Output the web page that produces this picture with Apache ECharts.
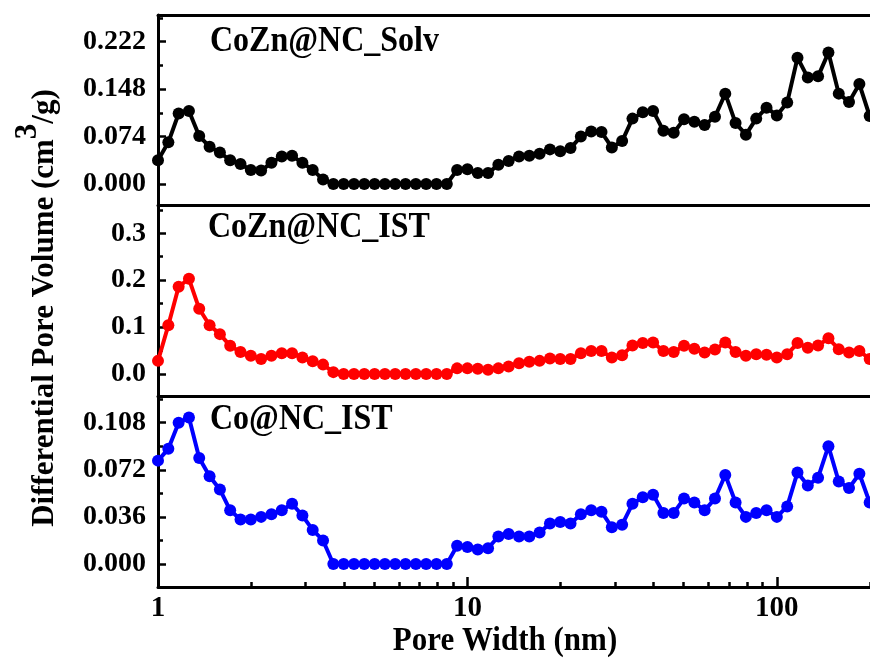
<!DOCTYPE html>
<html>
<head>
<meta charset="utf-8">
<script src="https://cdn.jsdelivr.net/npm/echarts@6/dist/echarts.min.js"></script>
<style>
html,body{margin:0;padding:0;background:#fff;}
#chart{width:870px;height:663px;}
</style>
</head>
<body>
<div id="chart"></div>
<script>
// Pore width (nm), log-spaced sampling
const poreWidth = [1.000,1.080,1.166,1.259,1.359,1.468,1.585,1.711,1.848,1.995,
  2.154,2.326,2.512,2.712,2.929,3.162,3.415,3.687,3.981,4.299,
  4.642,5.012,5.412,5.843,6.310,6.813,7.356,7.943,8.577,9.261,
  10.00,10.80,11.66,12.59,13.59,14.68,15.85,17.11,18.48,19.95,
  21.54,23.26,25.12,27.12,29.29,31.62,34.15,36.87,39.81,42.99,
  46.42,50.12,54.12,58.43,63.10,68.13,73.56,79.43,85.77,92.61,
  100.0,108.0,116.6,125.9,135.9,146.8,158.5,171.1,184.8,199.5];

const solvValues = [0.037,0.065,0.110,0.114,0.075,0.058,0.049,0.037,0.031,0.022,
  0.021,0.033,0.043,0.044,0.033,0.022,0.007,0,0,0,
  0,0,0,0,0,0,0,0,0,0.022,
  0.023,0.017,0.017,0.030,0.036,0.043,0.044,0.047,0.054,0.051,
  0.056,0.074,0.082,0.081,0.057,0.067,0.102,0.112,0.114,0.083,
  0.080,0.101,0.097,0.092,0.105,0.141,0.095,0.077,0.102,0.119,
  0.107,0.127,0.197,0.166,0.168,0.205,0.141,0.128,0.156,0.106];

const istValues = [0.028,0.104,0.186,0.203,0.139,0.104,0.085,0.060,0.047,0.039,
  0.032,0.039,0.044,0.044,0.035,0.027,0.020,0.004,0,0,
  0,0,0,0,0,0,0,0,0,0.012,
  0.012,0.011,0.009,0.012,0.016,0.023,0.026,0.028,0.033,0.032,
  0.032,0.044,0.049,0.049,0.035,0.040,0.061,0.066,0.067,0.049,
  0.047,0.060,0.054,0.046,0.052,0.067,0.047,0.039,0.042,0.041,
  0.035,0.042,0.066,0.056,0.061,0.076,0.053,0.046,0.049,0.032];

const coValues = [0.079,0.088,0.108,0.112,0.081,0.067,0.057,0.041,0.034,0.034,
  0.036,0.038,0.041,0.046,0.037,0.026,0.018,0,0,0,
  0,0,0,0,0,0,0,0,0,0.014,
  0.013,0.011,0.012,0.021,0.023,0.021,0.021,0.024,0.031,0.032,
  0.031,0.038,0.041,0.040,0.028,0.030,0.046,0.051,0.053,0.039,
  0.039,0.050,0.047,0.041,0.050,0.068,0.047,0.036,0.039,0.041,
  0.036,0.044,0.070,0.060,0.066,0.090,0.063,0.058,0.069,0.047];

const seriesNames = ['CoZn@NC_Solv','CoZn@NC_IST','Co@NC_IST'];
const seriesColors = ['#000000','#ff0000','#0000ff'];

// tick labels
const xTickLabels = [1,10,100];
const xMinorTicks = [2,3,4,5,6,7,8,9,20,30,40,50,60,70,80,90,200];
const solvTicks = [0,0.074,0.148,0.222];
const solvMinor = [0.037,0.111,0.185,0.259];
const istTicks = [0,0.1,0.2,0.3];
const istMinor = [0.05,0.15,0.25,0.35];
const coTicks = [0,0.036,0.072,0.108];
const coMinor = [0.018,0.054,0.090,0.126];

const FONT = '"Liberation Serif", "Times New Roman", serif';

const grids = [
  {left:158, right:0, top:15, height:190},
  {left:158, right:0, top:205, height:191},
  {left:158, right:0, top:396, height:191}
];
const yRanges = [[-0.0328,0.2637],[-0.0469,0.3603],[-0.0176,0.1284]];
const yMajor = [solvTicks, istTicks, coTicks];
const yMinor = [solvMinor, istMinor, coMinor];
const yDigits = [3,1,3];

const lineAx = {show:true, onZero:false, lineStyle:{color:'#000', width:3}};
const noLine = {show:false, onZero:false};

const xAxes = [];
const yAxes = [];
for (let g=0; g<3; g++) {
  xAxes.push({gridIndex:g, type:'log', logBase:10, min:1, max:200, position:'bottom',
    axisLine:lineAx, axisTick:{show:false}, axisLabel:{show:false}, splitLine:{show:false}});
  yAxes.push({gridIndex:g, type:'value', min:yRanges[g][0], max:yRanges[g][1], position:'left',
    axisLine:lineAx,
    axisTick:{show:true, inside:true, length:8, lineStyle:{color:'#000', width:2.5}, customValues:yMajor[g]},
    axisLabel:{show:true, customValues:yMajor[g], margin:12, color:'#000', fontFamily:FONT, fontWeight:'bold', fontSize:28,
      formatter:(function(d){return function(v){return (+v).toFixed(d);};})(yDigits[g])},
    splitLine:{show:false}});
  yAxes.push({gridIndex:g, type:'value', min:yRanges[g][0], max:yRanges[g][1], position:'left', offset:0,
    axisLine:noLine,
    axisTick:{show:true, inside:true, length:5, lineStyle:{color:'#000', width:2.5}, customValues:yMinor[g]},
    axisLabel:{show:false}, splitLine:{show:false}});
}
// top frame line of top panel (index 3)
xAxes.push({gridIndex:0, type:'log', logBase:10, min:1, max:200, position:'top',
  axisLine:lineAx, axisTick:{show:false}, axisLabel:{show:false}, splitLine:{show:false}});
// bottom axis ticks and labels (index 4)
xAxes.push({gridIndex:2, type:'log', logBase:10, min:1, max:200, position:'bottom',
  axisLine:noLine,
  axisTick:{show:true, inside:true, length:10, lineStyle:{color:'#000', width:2.5}, customValues:xTickLabels},
  axisLabel:{show:true, customValues:xTickLabels, margin:7, color:'#000', fontFamily:FONT, fontWeight:'bold', fontSize:29},
  splitLine:{show:false}});
// minor ticks (index 5)
xAxes.push({gridIndex:2, type:'log', logBase:10, min:1, max:200, position:'bottom',
  axisLine:noLine,
  axisTick:{show:true, inside:true, length:5, lineStyle:{color:'#000', width:2.5}, customValues:xMinorTicks},
  axisLabel:{show:false}, splitLine:{show:false}});

const allValues = [solvValues, istValues, coValues];
const series = allValues.map(function(vals, g){
  return {
    name: seriesNames[g], type:'line', xAxisIndex:g, yAxisIndex:g*2,
    data: poreWidth.map(function(x,i){return [x, vals[i]];}),
    symbol:'circle', symbolSize:12, showSymbol:true,
    lineStyle:{color:seriesColors[g], width:4},
    itemStyle:{color:seriesColors[g]},
    animation:false, z:3
  };
});

const labelPos = [[210,42],[208,228],[210,420]];
const graphics = seriesNames.map(function(n,g){
  return {type:'text', x:labelPos[g][0], y:labelPos[g][1], scaleY:1.12, z:10,
    style:{text:n, font:'bold 32px ' + FONT, fill:'#000', align:'left', verticalAlign:'middle'}};
});
graphics.push({type:'text', x:505, y:641, scaleY:1.1, z:10,
  style:{text:'Pore Width (nm)', font:'bold 31px ' + FONT, fill:'#000', align:'center', verticalAlign:'middle'}});
graphics.push({type:'text', x:36, y:308, rotation:Math.PI/2, z:10,
  style:{text:'{n|Differential Pore Volume (cm}{s|3}{n|/g)}', align:'center', verticalAlign:'middle', fill:'#000',
    rich:{
      n:{fontFamily:FONT, fontWeight:'bold', fontSize:31, lineHeight:48, verticalAlign:'bottom', fill:'#000'},
      s:{fontFamily:FONT, fontWeight:'bold', fontSize:31, lineHeight:48, verticalAlign:'top', fill:'#000'}
    }}});

const chart = echarts.init(document.getElementById('chart'), null, {renderer:'canvas'});
chart.setOption({
  backgroundColor:'#ffffff',
  animation:false,
  grid:grids,
  xAxis:xAxes,
  yAxis:yAxes,
  series:series,
  graphic:graphics
});
</script>
</body>
</html>
